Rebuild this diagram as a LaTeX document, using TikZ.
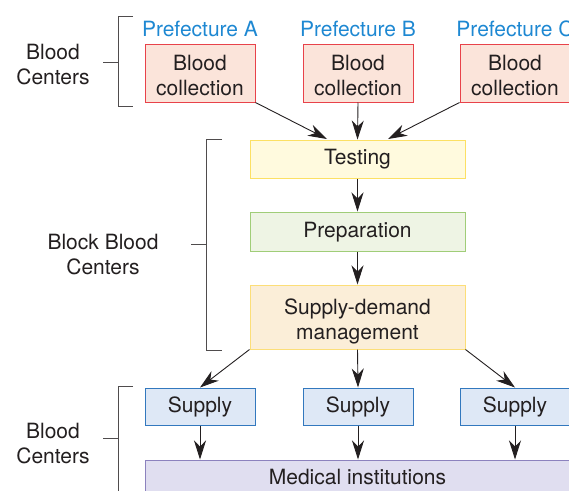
\documentclass[tikz,border=0pt]{standalone}
\usepackage{fontspec}
\setmainfont{TeX Gyre Heros}
\usetikzlibrary{arrows.meta}
\definecolor{txt}{RGB}{35,31,32}
\definecolor{pref}{RGB}{30,136,210}
\definecolor{colfill}{RGB}{251,228,218}
\definecolor{coldraw}{RGB}{232,66,74}
\definecolor{testfill}{RGB}{255,250,222}
\definecolor{testdraw}{RGB}{252,224,100}
\definecolor{prepfill}{RGB}{238,244,228}
\definecolor{prepdraw}{RGB}{160,205,120}
\definecolor{sdmfill}{RGB}{251,238,216}
\definecolor{sdmdraw}{RGB}{252,222,120}
\definecolor{supfill}{RGB}{222,232,246}
\definecolor{supdraw}{RGB}{50,120,190}
\definecolor{medfill}{RGB}{224,222,240}
\definecolor{meddraw}{RGB}{140,130,190}
\newcommand\onestrut{\rule[-4pt]{0pt}{20pt}}
\newcommand\topstrut{\rule{0pt}{24pt}}
\newcommand\botstrut{\rule[-4pt]{0pt}{0pt}}
\tikzset{
  base/.style={font=\fontsize{21}{25}\selectfont, text=txt, align=center, inner sep=0pt},
  box/.style={base, draw, line width=1pt, minimum width=110pt},
  colbox/.style={box, fill=colfill, draw=coldraw, minimum height=58pt},
  wide/.style={box, minimum width=215pt},
  supbox/.style={box, fill=supfill, draw=supdraw, minimum height=37pt},
  preflab/.style={base, text=pref},
  grp/.style={base},
  arr/.style={draw=txt, line width=0.9pt, -{Stealth[length=19pt,width=12pt,inset=6pt]}},
  brk/.style={draw=txt!80, line width=0.9pt}
}
\begin{document}
\begin{tikzpicture}[x=1pt,y=-1pt]
\useasboundingbox (0,0) rectangle (569,490);
% top row
\node[preflab] (pa) at (200,29) {Prefecture A};
\node[preflab] (pb) at (358,29) {Prefecture B};
\node[preflab] (pc) at (515,29) {Prefecture C};
\node[colbox] (ca) at (200,73) {\topstrut Blood\\collection\botstrut};
\node[colbox] (cb) at (358,73) {\topstrut Blood\\collection\botstrut};
\node[colbox] (cc) at (515,73) {\topstrut Blood\\collection\botstrut};
% middle
\node[wide, fill=testfill, draw=testdraw, minimum height=38pt] (test) at (357.5,159) {\onestrut Testing};
\node[wide, fill=prepfill, draw=prepdraw, minimum height=39pt] (prep) at (357.5,231.5) {\onestrut Preparation};
\node[wide, fill=sdmfill, draw=sdmdraw, minimum height=64pt] (sdm) at (357.5,317) {\topstrut Supply-demand\\management\botstrut};
% supplies
\node[supbox] (sa) at (200,406.5) {\onestrut Supply};
\node[supbox] (sb) at (358,406.5) {\onestrut Supply};
\node[supbox] (sc) at (515,406.5) {\onestrut Supply};
\node[box, fill=medfill, draw=meddraw, minimum width=425pt, minimum height=36pt] (med) at (357.5,478) {\onestrut Medical institutions};
% arrows
\coordinate (ta) at (327,139);
\coordinate (tc) at (388,139);
\draw[arr] (ca.south east) -- (ta);
\draw[arr] (cb.south) -- (test.north);
\draw[arr] (cc.south west) -- (tc);
\draw[arr] (test.south) -- (prep.north);
\draw[arr] (prep.south) -- (sdm.north);
\draw[arr] (sdm.south west) -- (sa.north);
\draw[arr] (sdm.south) -- (sb.north);
\draw[arr] (sdm.south east) -- (sc.north);
\draw[arr] (sa.south) -- (sa.south |- med.north);
\draw[arr] (sb.south) -- (sb.south |- med.north);
\draw[arr] (sc.south) -- (sc.south |- med.north);
% group labels and brackets
\node[grp] (g1) at (53,65) {Blood\\Centers};
\node[grp] (g2) at (103,255) {Block Blood\\Centers};
\node[grp] (g3) at (53,444) {Blood\\Centers};
\draw[brk] (133,16) -- (118,16) -- (118,106) -- (133,106);
\draw[brk] (103,62) -- (118,62);
\draw[brk] (222,139) -- (206,139) -- (206,350) -- (222,350);
\draw[brk] (191,244) -- (206,244);
\draw[brk] (133,386) -- (118,386) -- (118,495);
\draw[brk] (103,438) -- (118,438);
\end{tikzpicture}
\end{document}
